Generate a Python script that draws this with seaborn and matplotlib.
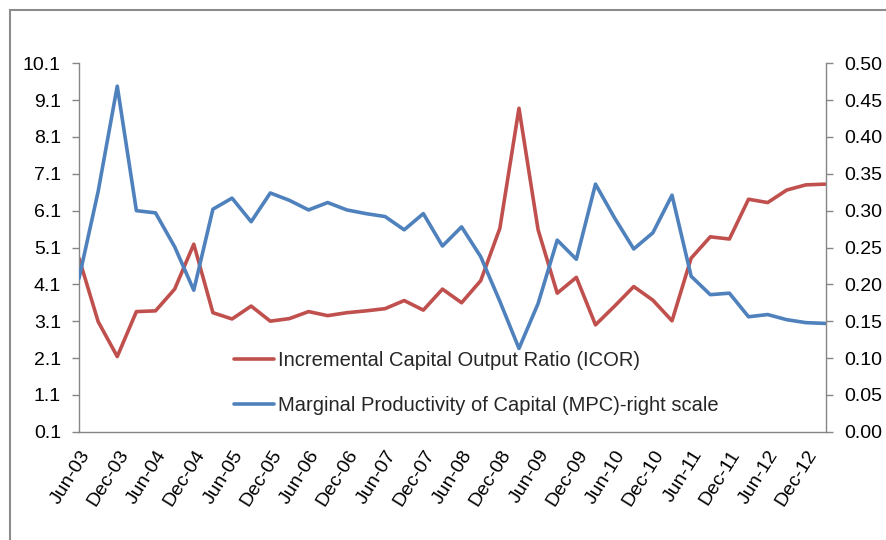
import matplotlib
matplotlib.use("Agg")
import matplotlib.pyplot as plt
import matplotlib.patches as mpatches
import seaborn as sns
import pandas as pd
import numpy as np

sns.set_style("white")
plt.rcParams["font.family"] = ["Liberation Sans", "DejaVu Sans"]

quarters = ["Jun-03", "Sep-03", "Dec-03", "Mar-04", "Jun-04", "Sep-04", "Dec-04", "Mar-05",
            "Jun-05", "Sep-05", "Dec-05", "Mar-06", "Jun-06", "Sep-06", "Dec-06", "Mar-07",
            "Jun-07", "Sep-07", "Dec-07", "Mar-08", "Jun-08", "Sep-08", "Dec-08", "Mar-09",
            "Jun-09", "Sep-09", "Dec-09", "Mar-10", "Jun-10", "Sep-10", "Dec-10", "Mar-11",
            "Jun-11", "Sep-11", "Dec-11", "Mar-12", "Jun-12", "Sep-12", "Dec-12", "Mar-13"]

icor = [4.81, 3.09, 2.14, 3.36, 3.38, 3.97, 5.19, 3.33, 3.16, 3.51,
        3.10, 3.17, 3.36, 3.25, 3.33, 3.38, 3.44, 3.66, 3.40, 3.97,
        3.60, 4.20, 5.62, 8.88, 5.58, 3.86, 4.29, 3.00, 3.51, 4.04,
        3.67, 3.11, 4.81, 5.39, 5.33, 6.41, 6.32, 6.66, 6.80, 6.82]

mpc = [0.208, 0.326, 0.469, 0.300, 0.297, 0.251, 0.192, 0.302, 0.317, 0.285,
       0.324, 0.314, 0.301, 0.311, 0.301, 0.296, 0.292, 0.274, 0.296, 0.252,
       0.278, 0.2375, 0.177, 0.113, 0.174, 0.260, 0.234, 0.336, 0.290, 0.248,
       0.270, 0.321, 0.211, 0.186, 0.188, 0.156, 0.159, 0.152, 0.148, 0.147]

left_ticks = [0.1, 1.1, 2.1, 3.1, 4.1, 5.1, 6.1, 7.1, 8.1, 9.1, 10.1]
right_ticks = [0.00, 0.05, 0.10, 0.15, 0.20, 0.25, 0.30, 0.35, 0.40, 0.45, 0.50]

label_icor = "Incremental Capital Output Ratio (ICOR)"
label_mpc = "Marginal Productivity of Capital (MPC)-right scale"

df = pd.DataFrame({"idx": np.arange(len(quarters)), "quarter": quarters,
                   "ICOR": icor, "MPC": mpc})

RED = "#C0504D"
BLUE = "#4F81BD"
GRAY = "#868686"

fig = plt.figure(figsize=(8.86, 5.40), dpi=100)
# outer chart border
fig.patches.append(mpatches.Rectangle((10 / 886, -0.1), 2.0, 1 - 10 / 540 + 0.1,
                                      transform=fig.transFigure, fill=False,
                                      edgecolor="#8c8c8c", linewidth=1.5))

ax = fig.add_axes([79 / 886, 1 - 431.7 / 540, (826 - 79) / 886, (431.7 - 63.3) / 540])
ax2 = ax.twinx()

sns.lineplot(data=df, x="idx", y="ICOR", ax=ax, color=RED, linewidth=2.6,
             label=label_icor, legend=False)
sns.lineplot(data=df, x="idx", y="MPC", ax=ax2, color=BLUE, linewidth=2.6,
             label=label_mpc, legend=False)

ax.set_xlim(0, len(quarters) - 1 + 0.05)
ax.set_ylim(0.1, 10.1)
ax2.set_ylim(0, 0.5)
ax.set_yticks(left_ticks)
ax.set_yticklabels([f"{v:.1f}" for v in left_ticks])
ax2.set_yticks(right_ticks)
ax2.set_yticklabels([f"{v:.2f}" for v in right_ticks])

xt = list(range(0, len(quarters), 2))
ax.set_xticks(xt)
ax.set_xticklabels([quarters[i] for i in xt], rotation=58, ha="right",
                   rotation_mode="anchor")

for a in (ax, ax2):
    a.set_xlabel("")
    a.set_ylabel("")
    for s in a.spines.values():
        s.set_color(GRAY)
        s.set_linewidth(1.0)
    a.spines["top"].set_visible(False)
    a.tick_params(axis="both", colors=GRAY, labelcolor="black", labelsize=14,
                  length=5, width=1.0, direction="out")
ax.spines["right"].set_visible(False)
ax2.spines["left"].set_visible(False)
ax2.spines["bottom"].set_visible(False)
ax.tick_params(axis="x", pad=6)
ax.tick_params(axis="y", pad=8)
ax2.tick_params(axis="y", pad=8)

h1, l1 = ax.get_legend_handles_labels()
h2, l2 = ax2.get_legend_handles_labels()
fig.legend(h1 + h2, l1 + l2, loc="upper left", bbox_to_anchor=(216 / 886, 1 - 333 / 540),
           frameon=False, fontsize=14.5, handlelength=2.0, handletextpad=0.2,
           labelspacing=1.3)

fig.savefig("out.png", dpi=100)
